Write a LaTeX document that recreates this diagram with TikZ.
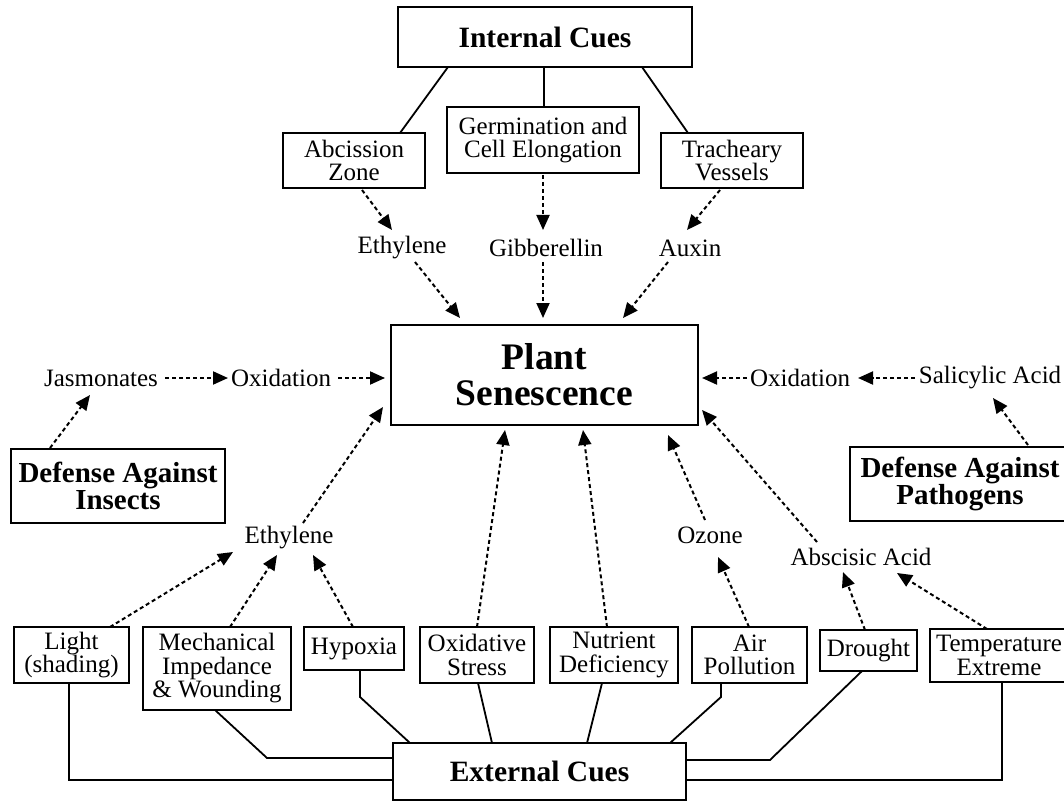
\documentclass[tikz,border=0pt]{standalone}
\usepackage{fontspec}
\setmainfont{Liberation Serif}
\usetikzlibrary{arrows.meta,calc}
\begin{document}
\begin{tikzpicture}[x=1pt,y=-1pt,
  box/.style={draw, line width=1.8pt, inner sep=0pt, align=center, font=\fontsize{25}{23.5}\selectfont},
  bigbox/.style={box, font=\bfseries\fontsize{29.5}{27}\selectfont},
  lbl/.style={inner sep=0pt, font=\fontsize{25}{23.5}\selectfont},
  conn/.style={line width=1.8pt},
  darr/.style={line width=2pt, dash pattern=on 4pt off 3pt, -{Triangle[length=15pt,width=13pt]}}]
\useasboundingbox (0,0) rectangle (1064,802);
\begin{scope}
\clip (0,0) rectangle (1064,802);
% boxes
\node[bigbox, minimum width=294pt, minimum height=60pt] (ic) at (545,37) {Internal Cues};
\node[box, minimum width=142pt, minimum height=55pt] (abc) at (354,160.5) {Abcission\\Zone};
\node[box, minimum width=192pt, minimum height=66pt] (germ) at (543,140) {Germination and\\Cell Elongation};
\node[box, minimum width=142pt, minimum height=55pt] (trach) at (732,160.5) {Tracheary\\Vessels};
\node[box, font=\bfseries\fontsize{37.5}{36}\selectfont, minimum width=307pt, minimum height=100pt] (ps) at (544.5,375) {Plant\\Senescence};
\node[bigbox, font=\bfseries\fontsize{29}{27}\selectfont, minimum width=214pt, minimum height=74pt] (dI) at (118,486) {Defense Against\\Insects};
\node[bigbox, font=\bfseries\fontsize{29}{27}\selectfont, minimum width=220pt, minimum height=74pt] (dP) at (960,484) {Defense Against\\Pathogens};
\node[box, minimum width=115pt, minimum height=56pt] (light) at (71.5,655) {Light\\(shading)};
\node[box, minimum width=148pt, minimum height=83pt] (mech) at (217,668.5) {Mechanical\\Impedance\\\& Wounding};
\node[box, minimum width=100pt, minimum height=43pt] (hyp) at (354,648.5) {Hypoxia};
\node[box, minimum width=114pt, minimum height=56pt] (oxs) at (477,655) {Oxidative\\Stress};
\node[box, minimum width=128pt, minimum height=56pt] (nut) at (614,655) {Nutrient\\Deficiency};
\node[box, minimum width=115pt, minimum height=56pt] (air) at (749.5,655) {Air\\Pollution};
\node[box, minimum width=97pt, minimum height=41pt] (dro) at (868.5,650.5) {Drought};
\node[box, minimum width=138pt, minimum height=53pt] (tem) at (999,655.5) {Temperature\\Extreme};
\node[bigbox, minimum width=293pt, minimum height=57pt] (ext) at (539.5,771.5) {External Cues};
% labels
\node[lbl] (ethT) at (402,248) {Ethylene};
\node[lbl] (gib) at (546,248) {Gibberellin};
\node[lbl] (aux) at (690,248) {Auxin};
\node[lbl] (jas) at (101,378) {Jasmonates};
\node[lbl] (oxL) at (281,378) {Oxidation};
\node[lbl] (oxR) at (800,378) {Oxidation};
\node[lbl] (sal) at (990,378) {Salicylic Acid};
\node[lbl] (ethL) at (289,538) {Ethylene};
\node[lbl] (ozo) at (710,535) {Ozone};
\node[lbl] (aba) at (861,557) {Abscisic Acid};
% solid connectors
\draw[conn] ($(ic)+(-97,30)$) -- ($(abc)+(46,-27.5)$);
\draw[conn] ($(ic)+(-1,30)$) -- ($(germ)+(1,-33)$);
\draw[conn] ($(ic)+(97,30)$) -- ($(trach)+(-44,-27.5)$);
\draw[conn] ($(light)+(-2.5,28)$) |- ($(ext)+(-146.5,8.5)$);
\draw[conn] ($(mech)+(-2,41.5)$) -- ($(ext)+(-272.5,-13.5)$) -- ($(ext)+(-146.5,-13.5)$);
\draw[conn] ($(hyp)+(6,21.5)$) -- ++(0,27) -- ($(ext)+(-129.5,-28.5)$);
\draw[conn] ($(oxs)+(1,28)$) -- ($(ext)+(-47.5,-28.5)$);
\draw[conn] ($(nut)+(-12,28)$) -- ($(ext)+(47.5,-28.5)$);
\draw[conn] ($(air)+(-28.5,28)$) -- ++(0,14) -- ($(ext)+(130.5,-28.5)$);
\draw[conn] ($(dro)+(-6.5,20.5)$) -- ($(ext)+(230.5,-11.5)$) -- ($(ext)+(146.5,-11.5)$);
\draw[conn] ($(tem)+(3,26.5)$) |- ($(ext)+(146.5,8.5)$);
% dashed arrows
\draw[darr] ($(abc)+(8,29.5)$) -- ($(ethT)+(-10,-18)$);
\draw[darr] ($(germ)+(0,35)$) -- ($(gib)+(-3,-18)$);
\draw[darr] ($(trach)+(-12,29.5)$) -- ($(aux)+(-3,-18)$);
\draw[darr] ($(ethT)+(13,14)$) -- ($(ps)+(-84.5,-57)$);
\draw[darr] ($(gib)+(-3,14)$) -- ($(ps)+(-1.5,-57)$);
\draw[darr] ($(aux)+(-22,14)$) -- ($(ps)+(78.5,-57)$);
\draw[darr] ($(jas)+(64,0)$) -- ($(oxL)+(-53,0)$);
\draw[darr] ($(oxL)+(57,0)$) -- ($(ps)+(-159.5,3)$);
\draw[darr] ($(dI)+(-68,-38)$) -- ($(jas)+(-11,17)$);
\draw[darr] ($(oxR)+(-53,0)$) -- ($(ps)+(157.5,3)$);
\draw[darr] ($(sal)+(-75,0)$) -- ($(oxR)+(58,0)$);
\draw[darr] ($(dP)+(68,-39)$) -- ($(sal)+(3,20)$);
\draw[darr] ($(ethL)+(14,-15)$) -- ($(ps)+(-161.5,32)$);
\draw[darr] ($(light)+(38.5,-28)$) -- ($(ethL)+(-56,14)$);
\draw[darr] ($(mech)+(13,-41.5)$) -- ($(ethL)+(-12,17)$);
\draw[darr] ($(hyp)+(-1,-21.5)$) -- ($(ethL)+(24,17)$);
\draw[darr] ($(oxs)+(0,-28)$) -- ($(ps)+(-39.5,55)$);
\draw[darr] ($(nut)+(-7,-28)$) -- ($(ps)+(38.5,55)$);
\draw[darr] ($(air)+(-0.5,-28)$) -- ($(ozo)+(8,22)$);
\draw[darr] ($(ozo)+(-5,-15)$) -- ($(ps)+(123.5,60)$);
\draw[darr] ($(aba)+(-44,-15)$) -- ($(ps)+(157.5,35)$);
\draw[darr] ($(dro)+(-3.5,-20.5)$) -- ($(aba)+(-18,15)$);
\draw[darr] ($(tem)+(-12,-26.5)$) -- ($(aba)+(36,16)$);
\end{scope}
\end{tikzpicture}
\end{document}
